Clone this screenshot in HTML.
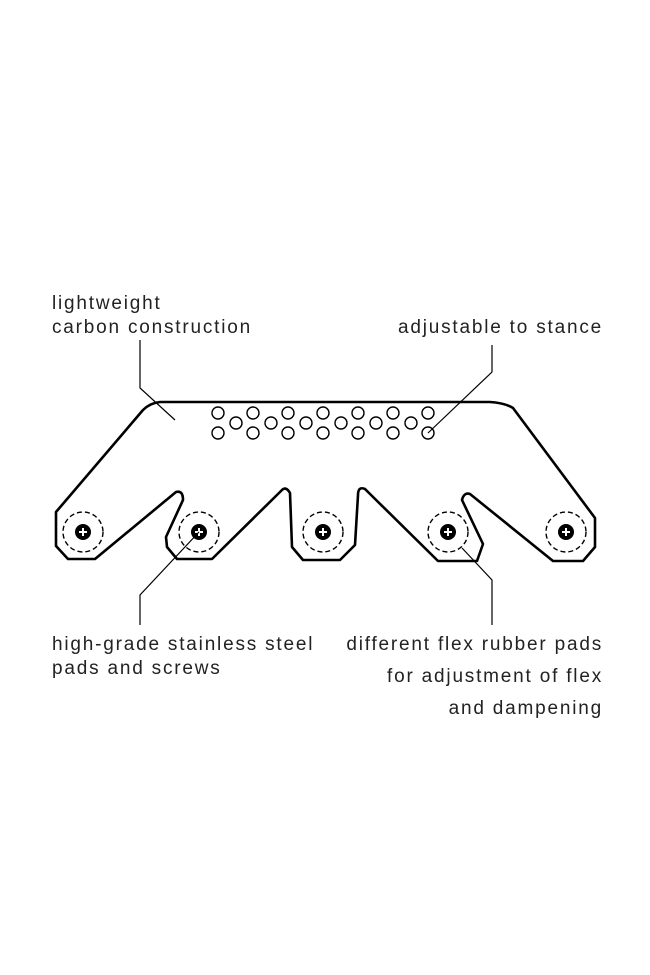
<!DOCTYPE html>
<html><head><meta charset="utf-8"><style>
html,body{margin:0;padding:0;background:#fff}
svg{display:block}
text{font-family:"Liberation Sans",sans-serif;font-size:19px;fill:#222;letter-spacing:1.8px}
</style></head><body>
<svg width="650" height="975" viewBox="0 0 650 975" xmlns="http://www.w3.org/2000/svg">
<g fill="none" stroke="#000" stroke-width="2.6" stroke-linejoin="round">
<path d="M160,402 L490,402 Q505,403 513,408 L595,518 L595,547 L583,561 L553,561 L470,494 Q464,492 462,500 L483,544 L477,561 L438,561 L365,489 Q358,486 358,495 L355,545 L340,560 L303,560 L292,547 L290,493 Q286,486 282,490 L212,559 L177,559 L167,547 L166,537 L183,500 Q183,490 176,492 L95,559 L68,559 L56,546 L56,512 L143,410 Q150,403 160,402 Z"/>
</g>
<g fill="none" stroke="#000" stroke-width="1.4">
<circle cx="218" cy="413" r="6"/><circle cx="253" cy="413" r="6"/><circle cx="288" cy="413" r="6"/><circle cx="323" cy="413" r="6"/><circle cx="358" cy="413" r="6"/><circle cx="393" cy="413" r="6"/><circle cx="428" cy="413" r="6"/>
<circle cx="236" cy="423" r="6"/><circle cx="271" cy="423" r="6"/><circle cx="306" cy="423" r="6"/><circle cx="341" cy="423" r="6"/><circle cx="376" cy="423" r="6"/><circle cx="411" cy="423" r="6"/>
<circle cx="218" cy="433" r="6"/><circle cx="253" cy="433" r="6"/><circle cx="288" cy="433" r="6"/><circle cx="323" cy="433" r="6"/><circle cx="358" cy="433" r="6"/><circle cx="393" cy="433" r="6"/><circle cx="428" cy="433" r="6"/>
</g>
<g fill="none" stroke="#000" stroke-width="1.4" stroke-dasharray="5,3">
<circle cx="83" cy="532" r="20"/><circle cx="199" cy="532" r="20"/><circle cx="323" cy="532" r="20"/><circle cx="448" cy="532" r="20"/><circle cx="566" cy="532" r="20"/>
</g>
<g>
<circle cx="83" cy="532" r="8"/><circle cx="199" cy="532" r="8"/><circle cx="323" cy="532" r="8"/><circle cx="448" cy="532" r="8"/><circle cx="566" cy="532" r="8"/>
</g>
<g stroke="#fff" stroke-width="2">
<path d="M79,532h8M83,528v8M195,532h8M199,528v8M319,532h8M323,528v8M444,532h8M448,528v8M562,532h8M566,528v8"/>
</g>
<g fill="none" stroke="#000" stroke-width="1.2">
<path d="M140,340 L140,388 L175,420"/>
<path d="M492,345 L492,372 L428,433"/>
<path d="M140,625 L140,595 L199,532"/>
<path d="M492,625 L492,580 L462,548"/>
</g>
<text x="52" y="309">lightweight</text>
<text x="52" y="333">carbon construction</text>
<text x="603" y="333" text-anchor="end">adjustable to stance</text>
<text x="52" y="650">high-grade stainless steel</text>
<text x="52" y="674">pads and screws</text>
<text x="603" y="650" text-anchor="end">different flex rubber pads</text>
<text x="603" y="682" text-anchor="end">for adjustment of flex</text>
<text x="603" y="714" text-anchor="end">and dampening</text>
</svg>
</body></html>
